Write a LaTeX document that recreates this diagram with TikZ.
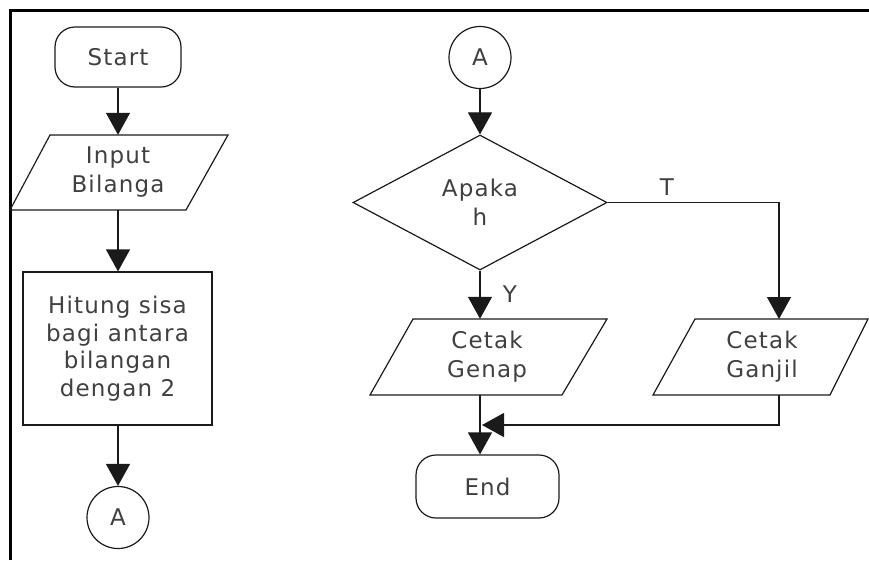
\documentclass[tikz,border=0pt]{standalone}
\usepackage{fontspec}
\setmainfont{DejaVu Sans}[LetterSpace=5]
\usetikzlibrary{arrows.meta,calc,shapes.geometric}
\definecolor{linec}{HTML}{1A1A1A}
\definecolor{textc}{HTML}{404040}
\begin{document}
\begin{tikzpicture}[x=1pt,y=-1pt,
  base/.style={line width=1.2pt, draw=linec},
  lbl/.style={text=textc, font=\fontsize{23}{29}\selectfont, align=center, inner sep=0pt},
  term/.style={base, lbl, rectangle, rounded corners=20pt},
  io/.style={lbl, rectangle, minimum height=76pt, minimum width=150pt},
  proc/.style={base, lbl, rectangle, minimum width=189pt, minimum height=153pt},
  conn/.style={base, lbl, circle, minimum size=62pt},
  dec/.style={base, lbl, diamond, minimum width=254pt, minimum height=135pt},
  arr/.style={base, -{Triangle[width=24pt,length=22pt]}},
  shp/.style={base, line join=miter}
]
\useasboundingbox (0,0) rectangle (869,560);
\draw[line width=3pt, black] (10,560) -- (10,10) -- (869,10);

% left column
\node[term, minimum width=126pt, minimum height=60pt] (start) at (118,57) {Start};
\draw[shp] (50,135) -- (228,135) -- (186,210) -- (10,210) -- cycle;
\node[io, minimum height=75pt] (inp) at (118,172.5) {Input\\Bilanga};
\node[proc, font=\fontsize{23}{27.5}\selectfont] (hit) at (117.5,348.5) {Hitung sisa\\bagi antara\\bilangan\\dengan 2};
\node[conn] (a1) at (118,517.5) {A};

\draw[arr] (start) -- (inp);
\draw[arr] (inp.south) -- (inp.south |- hit.north);
\draw[arr] (hit.south -| a1) -- (a1);

% right column
\node[conn] (a2) at (480,57.5) {A};
\node[dec] (d) at (480,202.5) {Apaka\\h};
\draw[shp] (413,319) -- (607,319) -- (562,395) -- (370,395) -- cycle;
\node[io] (gen) at (487,357) {Cetak\\Genap};
\draw[shp] (695,319) -- (868,319) -- (830,395) -- (653,395) -- cycle;
\node[io] (gan) at (762,357) {Cetak\\Ganjil};
\node[term, minimum width=143pt, minimum height=63pt] (end) at (487.5,486.5) {End};
\coordinate (gtop) at (779,319);
\coordinate (gbot) at (779,395);
\coordinate (join) at (482,425);

\draw[arr] (a2) -- (d);
\draw[arr] (d.south) -- (d.south |- gen.north);
\draw[arr] (d.east) -| (gtop);
\draw[arr] (gbot) |- (join);
\draw[arr] (d.south |- gen.south) -- (d.south |- end.north);

\node[lbl] (tl) at (667,187) {T};
\node[lbl] (yl) at (510,294) {Y};
\end{tikzpicture}
\end{document}
